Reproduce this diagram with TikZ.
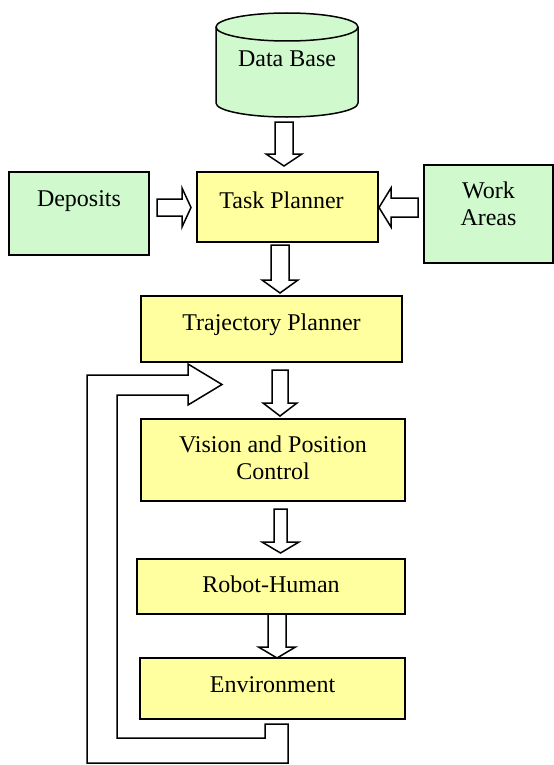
\documentclass[tikz,border=0pt]{standalone}
\usepackage{fontspec}
\setmainfont{Liberation Serif}
\usetikzlibrary{calc,backgrounds}
\definecolor{gfill}{RGB}{208,250,205}
\definecolor{yfill}{RGB}{255,255,160}
\newcommand\blockarrow[5]{% #1 from, #2 to, #3 stem half width, #4 head half width, #5 head length
  \path ($(#2)!#5!(#1)$) coordinate (bahead);
  \draw[blockarr] ($(#1)!#3!90:(#2)$) -- ($(bahead)!#3!90:(#2)$) -- ($(bahead)!#4!90:(#2)$) -- (#2)
    -- ($(bahead)!#4!-90:(#2)$) -- ($(bahead)!#3!-90:(#2)$) -- ($(#1)!#3!-90:(#2)$) -- cycle;
}
\tikzset{
  box/.style={draw, line width=1.5bp, anchor=north west, inner sep=0pt, outer sep=0pt,
    align=center, font=\fontsize{24bp}{27bp}\selectfont},
  gbox/.style={box, fill=gfill},
  ybox/.style={box, fill=yfill},
  blockarr/.style={draw, fill=white, line width=1.5bp, line join=miter},
}
\begin{document}
\begin{tikzpicture}[x=1bp,y=-1bp]
\useasboundingbox (0,0) rectangle (554,765);
\clip (0,0) rectangle (554,765);

% database cylinder
\node[anchor=north, inner sep=0pt, outer sep=0pt, minimum width=142bp,
      text height=53bp, text depth=51bp, font=\fontsize{24bp}{27bp}\selectfont] (db) at (287,13) {Data Base};
\begin{scope}[on background layer]
  \fill[white] (0,0) rectangle (554,765);
  \draw[fill=gfill, line width=1.5bp]
    ([yshift=-14bp]db.north west) -- ([yshift=14bp]db.south west)
    arc[start angle=180, end angle=0, x radius=71, y radius=14]
    -- ([yshift=-14bp]db.north east)
    arc[start angle=0, end angle=-180, x radius=71, y radius=14] -- cycle;
  \draw[line width=1.5bp] ([yshift=-14bp]db.north west)
    arc[start angle=180, end angle=0, x radius=71, y radius=14];
\end{scope}

% boxes
\node[gbox, minimum width=140bp, text height=34bp, text depth=49bp] (dep) at (9,172) {Deposits};
\node[ybox, minimum width=181bp, text height=36bp, text depth=34bp] (task) at (197,172) {Task Planner\kern12bp};
\node[gbox, minimum width=129bp, text height=60bp, text depth=38bp] (work) at (424,165) {Work\\Areas};
\node[ybox, minimum width=261bp, text height=34bp, text depth=32bp] (traj) at (141,296) {Trajectory Planner};
\node[ybox, minimum width=264bp, text height=60bp, text depth=22bp] (vis) at (141,419) {Vision and Position\\Control};
\node[ybox, minimum width=268bp, text height=33bp, text depth=22bp] (rob) at (137,559) {Robot-Human};
\node[ybox, minimum width=265bp, text height=34bp, text depth=27bp] (env) at (140,658) {Environment};

% arrow end points
\coordinate (a1s) at ([xshift=-3bp,yshift=-5bp]db.south);
\coordinate (a1e) at ($(a1s |- task.north)+(0,-6)$);
\coordinate (a2s) at ($(dep.east)+(8,-6)$);
\coordinate (a2e) at ($(a2s -| task.west)+(-6,0)$);
\coordinate (a3s) at ($(work.west)+(-6,-6.5)$);
\coordinate (a3e) at ($(a3s -| task.east)+(1,0)$);
\coordinate (a4s) at ($(task.south)+(-7.5,3)$);
\coordinate (a4e) at ($(a4s |- traj.north)+(0,-3)$);
\coordinate (a5s) at ($(traj.south)+(8.5,8)$);
\coordinate (a5e) at ($(a5s |- vis.north)+(0,-3)$);
\coordinate (a6s) at ($(vis.south)+(7.5,8)$);
\coordinate (a6e) at ($(a6s |- rob.north)+(0,-6)$);
\coordinate (a7s) at ($(rob.south)+(6,0)$);
\coordinate (a7e) at (a7s |- env.north);

\blockarrow{a1s}{a1e}{9bp}{18bp}{12bp}
\blockarrow{a2s}{a2e}{8.5bp}{19.5bp}{9bp}
\blockarrow{a3s}{a3e}{9.5bp}{19.5bp}{12bp}
\blockarrow{a4s}{a4e}{9bp}{18bp}{13bp}
\blockarrow{a5s}{a5e}{8bp}{17bp}{13bp}
\blockarrow{a6s}{a6e}{6.5bp}{18.5bp}{11bp}
\blockarrow{a7s}{a7e}{9bp}{18.5bp}{11bp}

% feedback loop
\coordinate (fbs) at ($(env.south)+(4,5)$);
\coordinate (fbe) at ($(vis.north west)+(81,-34.5)$);
\draw[blockarr] (fbs) ++(11.5,0) -- ++(0,39) -- (87,763) -- (87,375) -- (188,375) -- (188,364)
  -- (fbe) -- (188,405) -- (188,395) -- (117,395) -- (117,738) -- (265,738) -- (265,724) -- cycle;
\end{tikzpicture}
\end{document}
